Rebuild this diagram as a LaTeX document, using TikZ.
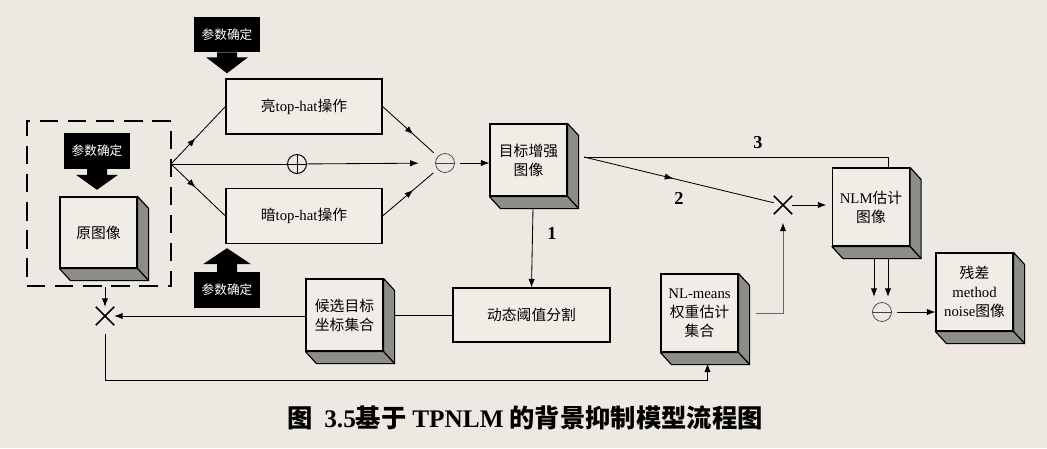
\documentclass[tikz,border=0pt]{standalone}
\usepackage{fontspec}
\setmainfont{Liberation Serif}
\newfontfamily\cjk{Noto Sans CJK SC}
\usetikzlibrary{arrows.meta,shapes.misc,decorations.markings}
\definecolor{paper}{RGB}{237,233,226}
\definecolor{face}{RGB}{240,237,231}
\definecolor{side}{RGB}{140,140,136}

% box with a grey right side and bottom
\newcommand\cubenode[4][]{%
  \node[cube,#1] (#2) at (#3) {#4};
  \filldraw[cubeside] (#2.north east) -- ++(11,12) -- ([shift={(11,12)}]#2.south east) -- (#2.south east) -- cycle;
  \filldraw[cubeside] (#2.south west) -- ++(11,12) -- ([shift={(11,12)}]#2.south east) -- (#2.south east) -- cycle;
}

\begin{document}
\begin{tikzpicture}[x=0.025cm,y=-0.025cm,>={Latex[length=6pt,width=4.5pt]},
  box/.style={draw,line width=0.8pt,fill=face,minimum width=3.9cm,minimum height=1.375cm,
    align=center,inner sep=1pt,font=\cjk\fontsize{10.5}{13.5}\selectfont},
  cube/.style={box,minimum width=1.925cm,minimum height=1.8cm},
  cubeside/.style={draw,line width=0.8pt,fill=side,line join=round},
  param/.style={fill=black,text=white,minimum width=1.65cm,minimum height=0.875cm,
    font=\cjk\fontsize{9}{10}\selectfont},
  sumop/.style={circle,draw=black!75,line width=0.5pt,minimum size=0.475cm,inner sep=0pt},
  oplus/.style={sumop,draw=black,line width=0.7pt,outer sep=0pt,path picture={\draw[line width=0.7pt]
    (path picture bounding box.west) -- (path picture bounding box.east)
    (path picture bounding box.north) -- (path picture bounding box.south);}},
  ominus/.style={sumop,outer sep=4pt,path picture={\draw[black!75,line width=0.5pt]
    (path picture bounding box.west) -- (path picture bounding box.east);}},
  mulop/.style={cross out,draw,line width=1.2pt,minimum size=0.32cm,inner sep=0pt,outer sep=2pt},
  link/.style={line width=0.6pt},
  midarrow/.style={postaction={decorate},decoration={markings,mark=at position #1 with {\arrow{>}}}},
  num/.style={font=\bfseries\fontsize{13}{14}\selectfont}]
\useasboundingbox (0,0) rectangle (1047,448);
\fill[paper] (0,0) rectangle (1047,448);

% input part
\node[draw,line width=1.6pt,dash pattern=on 13pt off 7pt,minimum width=3.6cm,minimum height=4.125cm] (group) at (99,203.5) {};
\node[param] (pin) at (97,151) {参数确定};
\fill (pin.south) ++(-10,0) -- ++(0,6) -- ++(-11,0) -- ++(21,15) -- ++(21,-15) -- ++(-11,0) -- ++(0,-6) -- cycle;
\cubenode[minimum height=1.775cm]{orig}{98.5,232.5}{原图像}

% top-hat stage
\node[param] (ptop) at (227,34.5) {参数确定};
\fill (ptop.south) ++(-10,0) -- ++(0,5) -- ++(-11,0) -- ++(21,16) -- ++(21,-16) -- ++(-11,0) -- ++(0,-5) -- cycle;
\node[box] (bright) at (304,106.5) {亮{\rmfamily top-hat}操作};
\node[box] (dark) at (304,216) {暗{\rmfamily top-hat}操作};
\node[param] (pbot) at (227,290) {参数确定};
\fill (pbot.north) ++(-10,0) -- ++(0,-8) -- ++(-14,0) -- ++(24,-16) -- ++(24,16) -- ++(-14,0) -- ++(0,8) -- cycle;
\coordinate (split) at (171,164);
\node[oplus] (plus) at (297,164) {};
\node[ominus] (minus) at (445,163) {};

% other blocks
\cubenode{enh}{528.5,160}{目标增强\\图像}
\node[box,minimum width=3.925cm,minimum height=1.35cm] (seg) at (531.5,315) {动态阈值分割};
\cubenode{cand}{344.5,315}{候选目标\\坐标集合}
\cubenode[minimum height=1.95cm]{nlw}{699.5,313}{{\rmfamily NL-means}\\权重估计\\集合}
\cubenode[minimum height=1.95cm]{nlm}{871,207}{{\rmfamily NLM}估计\\图像}
\cubenode[minimum height=1.95cm]{resid}{974.5,292}{残差\\{\rmfamily method}\\{\rmfamily noise}图像}
\node[mulop] (mul1) at (105,316) {};
\node[mulop] (mul2) at (783,205) {};
\node[ominus] (minus2) at (882,312) {};

% connections
\draw[link,midarrow=0.45] (split) -- (bright.west);
\draw[link,midarrow=0.45] (split) -- (dark.west);
\draw[link] (split) -- (plus);
\draw[link,->,shorten >=8pt] (plus) -- (minus);
\draw[link,midarrow=0.6] (bright.east) -- (minus);
\draw[link,midarrow=0.6] (dark.east) -- (minus);
\draw[link,->] (minus) -- (minus -| enh.west);
\draw[link,->] ([shift={(4.5,11)}]enh.south) -- (seg.north);
\node[num] (n1) at (552,233) {1};
\coordinate (eout) at (584,157);
\draw[link,midarrow=0.47] (eout) -- (mul2);
\node[num] (n2) at (679,198) {2};
\draw[link] (eout) -| ([xshift=0.425cm]nlm.north);
\node[num] (n3) at (758,143) {3};
\draw[link,->,shorten >=4pt] (mul2) -- (mul2 -| nlm.west);
\draw[link,draw=black!60,-{Latex[length=6pt,width=4.5pt,black]},shorten >=6pt] ([xshift=0.425cm]nlw.east) -| (mul2);
\coordinate (d1) at ([shift={(3,11)}]nlm.south);
\coordinate (d2) at ([shift={(17,11)}]nlm.south);
\draw[link,->] (d1) -- (d1 |- minus2.north);
\draw[link,->] (d2) -- (d2 |- minus2.north);
\draw[link,->] (minus2) -- (minus2 -| resid.west);
\draw[link] (seg.west) -- ([xshift=0.25cm]cand.east);
\draw[link,->] (mul1 -| cand.west) -- (mul1);
\draw[link,->] (mul1 |- group.south) -- (mul1);
\draw[link,->,shorten <=6pt] (mul1) -- ++(0,64) -| ([shift={(8,11)}]nlw.south);

% caption
\node[font=\cjk\bfseries\fontsize{18}{20}\selectfont] (cap) at (525,418) {图\ \ {\rmfamily 3.5}基于 {\rmfamily TPNLM} 的背景抑制模型流程图};
\end{tikzpicture}
\end{document}
